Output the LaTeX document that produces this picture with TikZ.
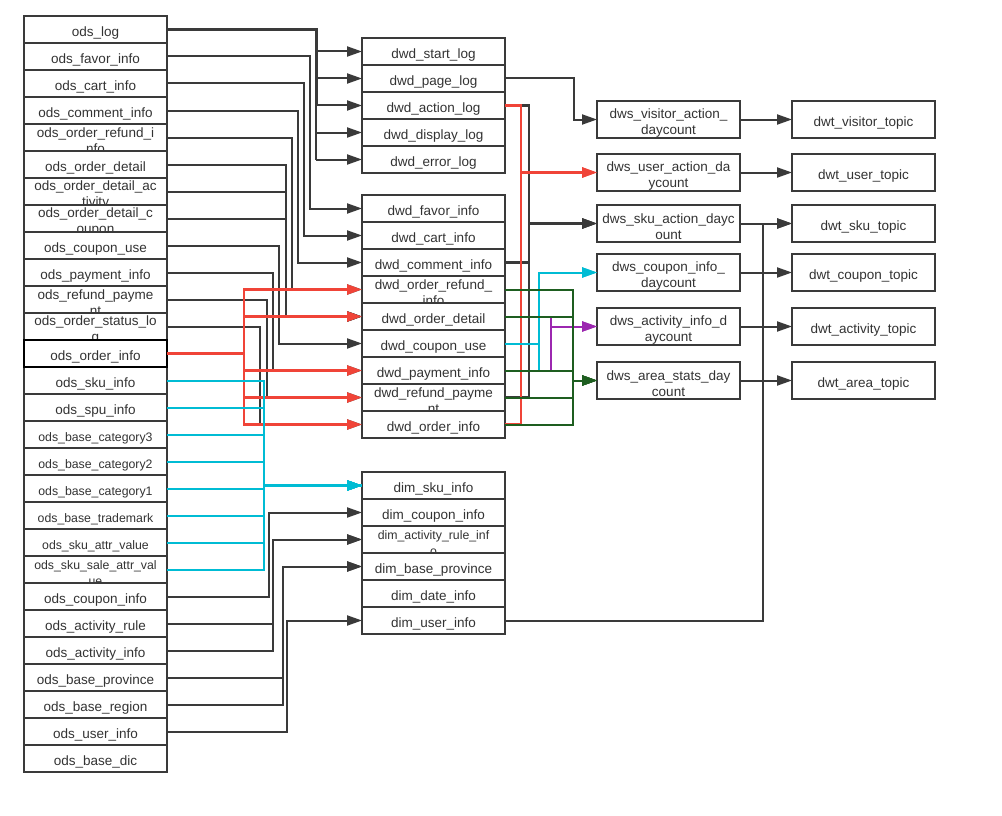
\documentclass[tikz,border=0pt]{standalone}
\usepackage{fontspec}
\setmainfont{Liberation Sans}
\usetikzlibrary{arrows.meta}
\definecolor{linec}{HTML}{3A3A3A}
\definecolor{txtc}{HTML}{333333}
\definecolor{redc}{HTML}{F04438}
\definecolor{cyanc}{HTML}{00BCD4}
\definecolor{purplec}{HTML}{9C27B0}
\definecolor{greenc}{HTML}{1E5E20}
\newcommand\smallt{\fontsize{12.3}{16}\selectfont}
\tikzset{
  tbl/.style={draw=linec, line width=2pt, fill=white, minimum width=143pt, minimum height=27pt, inner sep=0pt, outer sep=0pt},
  sbl/.style={tbl, minimum height=37pt},
  lbl/.style={font=\fontsize{13.5}{16}\selectfont, text=txtc, align=center, inner sep=0pt, yshift=-3.5pt},
  ln/.style={linec, line width=2pt},
  arr/.style={ln, -{Triangle[length=15pt,width=10pt]}}
}
\begin{document}
\begin{tikzpicture}[x=1pt,y=-1pt]
\useasboundingbox (0,0) rectangle (1002,816);
\fill[white] (0,0) rectangle (1002,816);
% ods layer
\foreach \nm/\txt [count=\i from 0] in {log/ods\_log, favor/ods\_favor\_info, cart/ods\_cart\_info, comment/ods\_comment\_info,
  orefund/{ods\_order\_refund\_i\\nfo}, odetail/ods\_order\_detail, odact/{ods\_order\_detail\_ac\\tivity}, odcoup/{ods\_order\_detail\_c\\oupon},
  cuse/ods\_coupon\_use, pay/ods\_payment\_info, rpay/{ods\_refund\_payme\\nt}, status/{ods\_order\_status\_lo\\g}, oinfo/ods\_order\_info,
  sku/ods\_sku\_info, spu/ods\_spu\_info, cat3/{\smallt ods\_base\_category3}, cat2/{\smallt ods\_base\_category2}, cat1/{\smallt ods\_base\_category1},
  tm/{\smallt ods\_base\_trademark}, attr/{\smallt ods\_sku\_attr\_value}, sale/{\smallt ods\_sku\_sale\_attr\_val\\\smallt ue}, coupon/ods\_coupon\_info,
  arule/ods\_activity\_rule, ainfo/ods\_activity\_info, prov/ods\_base\_province, region/ods\_base\_region, user/ods\_user\_info, dic/ods\_base\_dic}{
  \node[tbl] (ods-\nm) at (95.5,29.5+27*\i) {};
  \node[lbl] at (ods-\nm) {\txt};
}
\draw[black, line width=2pt] (ods-oinfo.south west) rectangle (ods-oinfo.north east);
% dwd layer
\foreach \nm/\txt [count=\i from 0] in {start/dwd\_start\_log, page/dwd\_page\_log, action/dwd\_action\_log, display/dwd\_display\_log, error/dwd\_error\_log}{
  \node[tbl] (dwd-\nm) at (433.5,51.5+27*\i) {};
  \node[lbl] at (dwd-\nm) {\txt};
}
\foreach \nm/\txt [count=\i from 0] in {favor/dwd\_favor\_info, cart/dwd\_cart\_info, comment/dwd\_comment\_info, orefund/{dwd\_order\_refund\_\\info},
  odetail/dwd\_order\_detail, cuse/dwd\_coupon\_use, pay/dwd\_payment\_info, rpay/{dwd\_refund\_payme\\nt}, oinfo/dwd\_order\_info}{
  \node[tbl] (dwd-\nm) at (433.5,208.5+27*\i) {};
  \node[lbl] at (dwd-\nm) {\txt};
}
% dim layer
\foreach \nm/\txt [count=\i from 0] in {sku/dim\_sku\_info, coupon/dim\_coupon\_info, arule/{\smallt dim\_activity\_rule\_inf\\\smallt o},
  prov/dim\_base\_province, date/dim\_date\_info, user/dim\_user\_info}{
  \node[tbl] (dim-\nm) at (433.5,485.5+27*\i) {};
  \node[lbl] at (dim-\nm) {\txt};
}
% dws and dwt layers
\foreach \nm/\ts/\tt/\y in {visitor/{dws\_visitor\_action\_\\daycount}/dwt\_visitor\_topic/119.5,
  user/{dws\_user\_action\_da\\ycount}/dwt\_user\_topic/172.5, sku/{dws\_sku\_action\_dayc\\ount}/dwt\_sku\_topic/223.5,
  coupon/{dws\_coupon\_info\_\\daycount}/dwt\_coupon\_topic/272.5, act/{dws\_activity\_info\_d\\aycount}/dwt\_activity\_topic/326.5,
  area/{dws\_area\_stats\_day\\count}/dwt\_area\_topic/380.5}{
  \node[sbl] (dws-\nm) at (668.5,\y) {};
  \node[lbl] at (dws-\nm) {\ts};
  \node[sbl] (dwt-\nm) at (863.5,\y) {};
  \node[lbl] at (dwt-\nm) {\tt};
}
% ods -> dwd, dim
\draw[ln, line width=3pt] (ods-log.east) -| (316,0 |- dwd-action.west);
\draw[ln] (316,0 |- dwd-action.west) -- (316,0 |- dwd-error.west);
\foreach \nm in {start,page,action,display,error}
  \draw[arr] (316,0 |- dwd-\nm.west) -- (dwd-\nm.west);
\foreach \s/\x/\d in {favor/310/dwd-favor, cart/303.5/dwd-cart, comment/297.5/dwd-comment, orefund/291.5/dwd-orefund,
  odetail/285.5/dwd-odetail, odact/285.5/dwd-odetail, odcoup/285.5/dwd-odetail, cuse/278.5/dwd-cuse, pay/272.5/dwd-pay,
  rpay/266.5/dwd-rpay, status/260/dwd-oinfo, coupon/268.5/dim-coupon, arule/272.5/dim-arule, ainfo/272.5/dim-arule,
  prov/282.5/dim-prov, region/282.5/dim-prov, user/287/dim-user}
  \draw[arr] (ods-\s.east) -- (\x,0 |- ods-\s.east) |- (\d.west);
\foreach \d in {orefund,odetail,pay,rpay,oinfo}
  \draw[arr, redc, line width=2.4pt] (ods-oinfo.east) -- (244,0 |- ods-oinfo.east) |- (dwd-\d.west);
\foreach \s in {sku,spu,cat3,cat2,cat1,tm,attr,sale}
  \draw[arr, cyanc] (ods-\s.east) -- (264,0 |- ods-\s.east) |- (dim-sku.west);
\draw[cyanc, line width=3pt] (264,0 |- dim-sku.west) -- (dim-sku.west);
% dwd -> dws
\draw[arr] (dwd-page.east) -- (574,0 |- dwd-page.east) |- (dws-visitor.west);
\foreach \s in {action,comment,rpay}
  \draw[arr, line width=2.4pt] (dwd-\s.east) -- (529,0 |- dwd-\s.east) |- (dws-sku.west);
\foreach \s in {action,oinfo}
  \draw[arr, redc, line width=2.4pt] (dwd-\s.east) -- (521,0 |- dwd-\s.east) |- (dws-user.west);
\foreach \s in {cuse,pay}
  \draw[arr, cyanc] (dwd-\s.east) -- (539,0 |- dwd-\s.east) |- (dws-coupon.west);
\foreach \s in {odetail,pay}
  \draw[arr, purplec] (dwd-\s.east) -- (551,0 |- dwd-\s.east) |- (dws-act.west);
\foreach \s in {orefund,odetail,pay,rpay,oinfo}
  \draw[arr, greenc] (dwd-\s.east) -- (573,0 |- dwd-\s.east) |- (dws-area.west);
% dws -> dwt
\foreach \nm in {visitor,user,sku,coupon,act,area}
  \draw[arr] (dws-\nm.east) -- (dwt-\nm.west);
\draw[arr] (dim-user.east) -| (763,0 |- dwt-sku.west) -- (dwt-sku.west);
\end{tikzpicture}
\end{document}
